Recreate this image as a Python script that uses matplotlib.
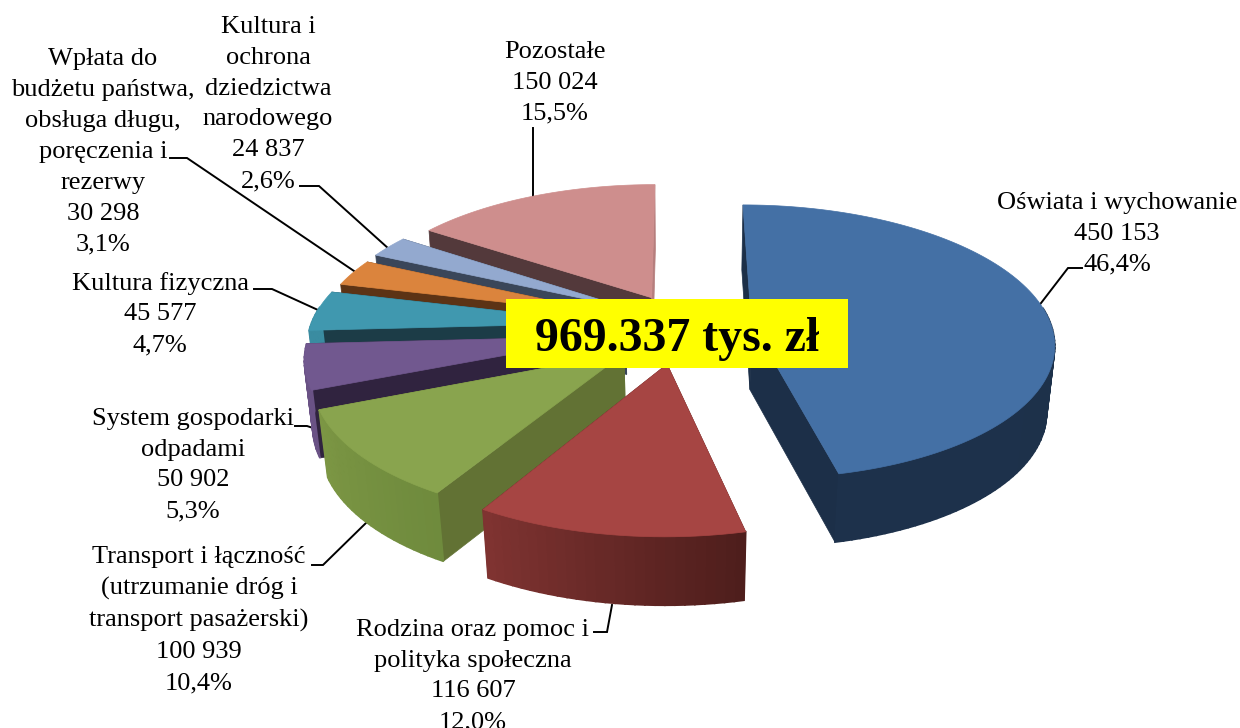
import numpy as np
import matplotlib
matplotlib.use("Agg")
import matplotlib.pyplot as plt
from matplotlib.colors import to_rgb
from matplotlib.patches import Polygon, Rectangle

names = ["Oświata i wychowanie", "Rodzina oraz pomoc i\npolityka społeczna",
         "Transport i łączność\n(utrzumanie dróg i\ntransport pasażerski)",
         "System gospodarki\nodpadami", "Kultura fizyczna",
         "Wpłata do\nbudżetu państwa,\nobsługa długu,\nporęczenia i\nrezerwy",
         "Kultura i\nochrona\ndziedzictwa\nnarodowego", "Pozostałe"]
values = [450153, 116607, 100939, 50902, 45577, 30298, 24837, 150024]
explode = [0.23, 0.31, 0.27, 0.24, 0.24, 0.23, 0.22, 0.20]
shift_x = [1, 0, 5, 0, 0, 0, 0, -3]
shift_y = [5, 0, 8, 8, 5, 4, 1, 0]
top_colors = ["#4470A5", "#A64543", "#89A44E", "#71588F", "#4098AF", "#DB843D", "#93A9CF", "#CE8E8D"]
radial_start = ["#1C2F48", "#4E1E1C", "#627234", "#30233F", "#1C3C47", "#5C3315", "#3A4659", "#53393B"]
radial_end = ["#1C2F48", "#4E1E1C", "#627234", "#30233F", "#1C3C47", "#5C3315", "#3A4659", "#B67E7D"]
rim_start = ["#1C3049", "#4E1E1C", "#6F8B3D", "#6A5285", "#3A8CA1", "#C9772F", "#8398BA", "#B67E7D"]
rim_end = ["#1D314B", "#7F3331", "#7C9644", "#6A5285", "#3A8CA1", "#C9772F", "#8398BA", "#B67E7D"]
label_xy = [(1117, 234), (473, 676), (199, 620), (193, 465), (160, 314), (103, 152), (268, 104), (555, 83)]
leaders = [[(1038, 307), (1068, 268), (1082, 268)],
           [(612, 605), (607, 632), (594, 632)],
           [(368, 521), (323, 565), (312, 565)],
           [(313, 428), (307, 426), (295, 426)],
           [(318, 310), (272, 289), (254, 289)],
           [(354, 271), (187, 158), (170, 158)],
           [(389, 249), (319, 186), (300, 186)],
           [(533, 197), (533, 128)]]
total_text = "969.337 tys. zł"

CX, CY, RX, RY, DEPTH, K, M = 682, 321, 300, 135, 67, 0.14, 0.022

fig = plt.figure(figsize=(12.4, 7.28), dpi=100)
ax = fig.add_axes([0, 0, 1, 1])
ax.set_xlim(0, 1240)
ax.set_ylim(728, 0)
ax.axis("off")


def project(X, Z, H, dx=0, dy=0):
    w = 1 + K * Z + M * H
    return CX + dx + RX * X / w, CY + dy - RY * Z / w + DEPTH * H / np.sqrt(1 + K * Z)


total = sum(values)
edges = np.concatenate([[0], np.cumsum(values)]) / total * 2 * np.pi
mids = (edges[:-1] + edges[1:]) / 2
order = list(np.argsort(-np.cos(mids)))

for i in order:
    a0, a1, e = edges[i], edges[i + 1], explode[i]
    dx, dy = shift_x[i], shift_y[i]
    ox, oz = e * np.sin(mids[i]), e * np.cos(mids[i])
    th = np.linspace(a0, a1, max(4, int(np.degrees(a1 - a0) / 1.5)))
    rX, rZ = ox + np.sin(th), oz + np.cos(th)
    z_base = 3 + 3 * order.index(i)

    for a, wall in ((a0, radial_start[i]), (a1, radial_end[i])):
        ex, ez = ox + np.sin(a), oz + np.cos(a)
        pts = [project(ox, oz, 0, dx, dy), project(ex, ez, 0, dx, dy),
               project(ex, ez, 1, dx, dy), project(ox, oz, 1, dx, dy)]
        ax.add_patch(Polygon(pts, fc=wall, ec=wall, lw=0.5, zorder=z_base - 1))

    c0, c1 = np.array(to_rgb(rim_start[i])), np.array(to_rgb(rim_end[i]))
    for j in range(len(th) - 1):
        if np.cos(th[j]) > 0.1 and np.cos(th[j + 1]) > 0.1:
            continue
        t = j / max(1, len(th) - 2)
        col = c0 * (1 - t) + c1 * t
        pts = [project(rX[j], rZ[j], 0, dx, dy), project(rX[j + 1], rZ[j + 1], 0, dx, dy),
               project(rX[j + 1], rZ[j + 1], 1, dx, dy), project(rX[j], rZ[j], 1, dx, dy)]
        ax.add_patch(Polygon(pts, fc=col, ec=col, lw=1.2, zorder=z_base))

    tx, ty = project(np.r_[ox, rX], np.r_[oz, rZ], 0, dx, dy)
    ax.add_patch(Polygon(np.c_[tx, ty], fc=top_colors[i], ec=top_colors[i], lw=0.5, zorder=z_base + 1))

for pts in leaders:
    xs, ys = zip(*pts)
    ax.plot(xs, ys, color="black", lw=1.4, zorder=1, solid_joinstyle="miter")

for name, v, (x, y) in zip(names, values, label_xy):
    pct = f"{v / total * 100:.1f}".replace(".", ",")
    val = f"{v:,}".replace(",", " ")
    ax.text(x, y, f"{name}\n{val}\n{pct}%", ha="center", va="center", family="Liberation Serif",
            fontsize=19, linespacing=1.52, color="black", zorder=60)

ax.add_patch(Rectangle((506, 299), 342, 69, fc="#FFFF00", ec="none", zorder=70))
ax.text(677, 339, total_text, ha="center", va="center", family="Liberation Serif", fontweight="bold",
        fontsize=34.5, color="black", zorder=71)

fig.savefig("out.png", dpi=100)
